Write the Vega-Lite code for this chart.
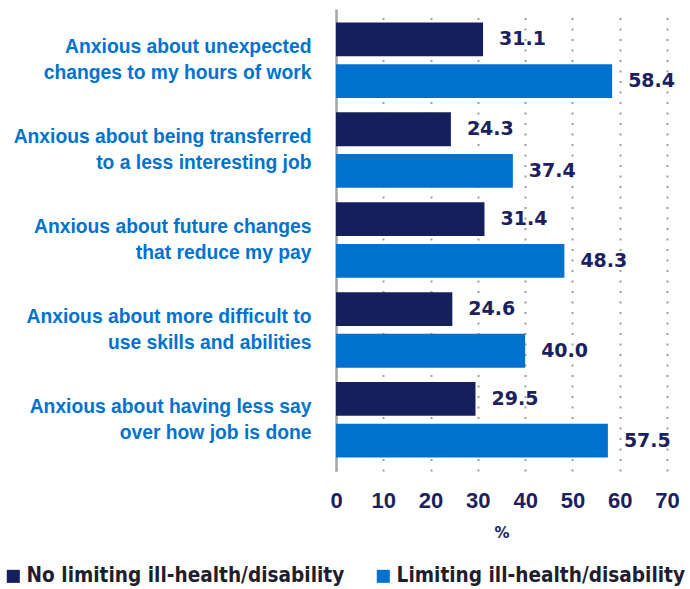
{
  "$schema": "https://vega.github.io/schema/vega-lite/v6.json",
  "autosize": {"type": "none"},
  "padding": {"left": 336, "top": 9, "right": 23, "bottom": 118},
  "width": 331,
  "height": 462,
  "background": "white",
  "config": {"view": {"stroke": null}},
  "data": {"values": [
    {"cat": "Anxious about unexpected|changes to my hours of work", "group": "No limiting ill-health/disability", "value": 31.1},
    {"cat": "Anxious about unexpected|changes to my hours of work", "group": "Limiting ill-health/disability", "value": 58.4},
    {"cat": "Anxious about being transferred|to a less interesting job", "group": "No limiting ill-health/disability", "value": 24.3},
    {"cat": "Anxious about being transferred|to a less interesting job", "group": "Limiting ill-health/disability", "value": 37.4},
    {"cat": "Anxious about future changes|that reduce my pay", "group": "No limiting ill-health/disability", "value": 31.4},
    {"cat": "Anxious about future changes|that reduce my pay", "group": "Limiting ill-health/disability", "value": 48.3},
    {"cat": "Anxious about more difficult to|use skills and abilities", "group": "No limiting ill-health/disability", "value": 24.6},
    {"cat": "Anxious about more difficult to|use skills and abilities", "group": "Limiting ill-health/disability", "value": 40.0},
    {"cat": "Anxious about having less say|over how job is done", "group": "No limiting ill-health/disability", "value": 29.5},
    {"cat": "Anxious about having less say|over how job is done", "group": "Limiting ill-health/disability", "value": 57.5}
  ]},
  "encoding": {
    "y": {
      "field": "cat", "type": "nominal", "sort": null,
      "scale": {"paddingInner": 0.16, "paddingOuter": 0.15},
      "axis": {
        "title": null,
        "labelExpr": "split(datum.label, '|')",
        "labelFont": "Liberation Sans", "labelFontWeight": "bold", "labelFontSize": 19.3,
        "labelColor": "#0072CE", "labelLineHeight": 26, "labelLimit": 400,
        "labelOffset": -13,
        "ticks": false, "labelPadding": 25,
        "domainColor": "#A6A6A6", "domainWidth": 2.5
      }
    },
    "yOffset": {
      "field": "group", "type": "nominal",
      "sort": ["No limiting ill-health/disability", "Limiting ill-health/disability"],
      "scale": {"paddingInner": 0.19, "paddingOuter": 0}
    },
    "x": {
      "field": "value", "type": "quantitative",
      "scale": {"domain": [0, 70], "nice": false},
      "axis": {
        "title": "%", "titleFont": "DejaVu Sans", "titleFontWeight": "bold", "titleFontSize": 15,
        "titleColor": "#1B2160", "titlePadding": 14,
        "values": [0, 10, 20, 30, 40, 50, 60, 70],
        "labelFont": "Liberation Sans", "labelFontWeight": "bold", "labelFontSize": 22,
        "labelColor": "#1B2160", "labelPadding": 19, "labelFlush": false,
        "domain": false, "ticks": false,
        "grid": true, "gridColor": "#9E9E9E", "gridWidth": 2, "gridDash": [2, 8.5]
      }
    }
  },
  "layer": [
    {
      "mark": {"type": "bar"},
      "encoding": {
        "color": {
          "field": "group", "type": "nominal",
          "sort": ["No limiting ill-health/disability", "Limiting ill-health/disability"],
          "scale": {"domain": ["No limiting ill-health/disability", "Limiting ill-health/disability"], "range": ["#161F5E", "#0072CE"]},
          "legend": {
            "title": null, "orient": "none", "direction": "horizontal", "padding": 0,
            "legendX": -333, "legendY": 557, "columns": 2, "columnPadding": 28,
            "symbolType": "square", "symbolSize": 170, "symbolStrokeWidth": 0,
            "labelFont": "DejaVu Sans Condensed", "labelFontWeight": "bold", "labelFontSize": 20.6,
            "labelColor": "#1E1E2E", "labelLimit": 500, "labelOffset": 3
          }
        }
      }
    },
    {
      "mark": {"type": "text", "align": "left", "baseline": "middle", "dx": 16,
               "font": "DejaVu Sans", "fontWeight": "bold", "fontSize": 19, "color": "#1B2160"},
      "encoding": {"text": {"field": "value", "type": "quantitative", "format": ".1f"}}
    }
  ]
}
